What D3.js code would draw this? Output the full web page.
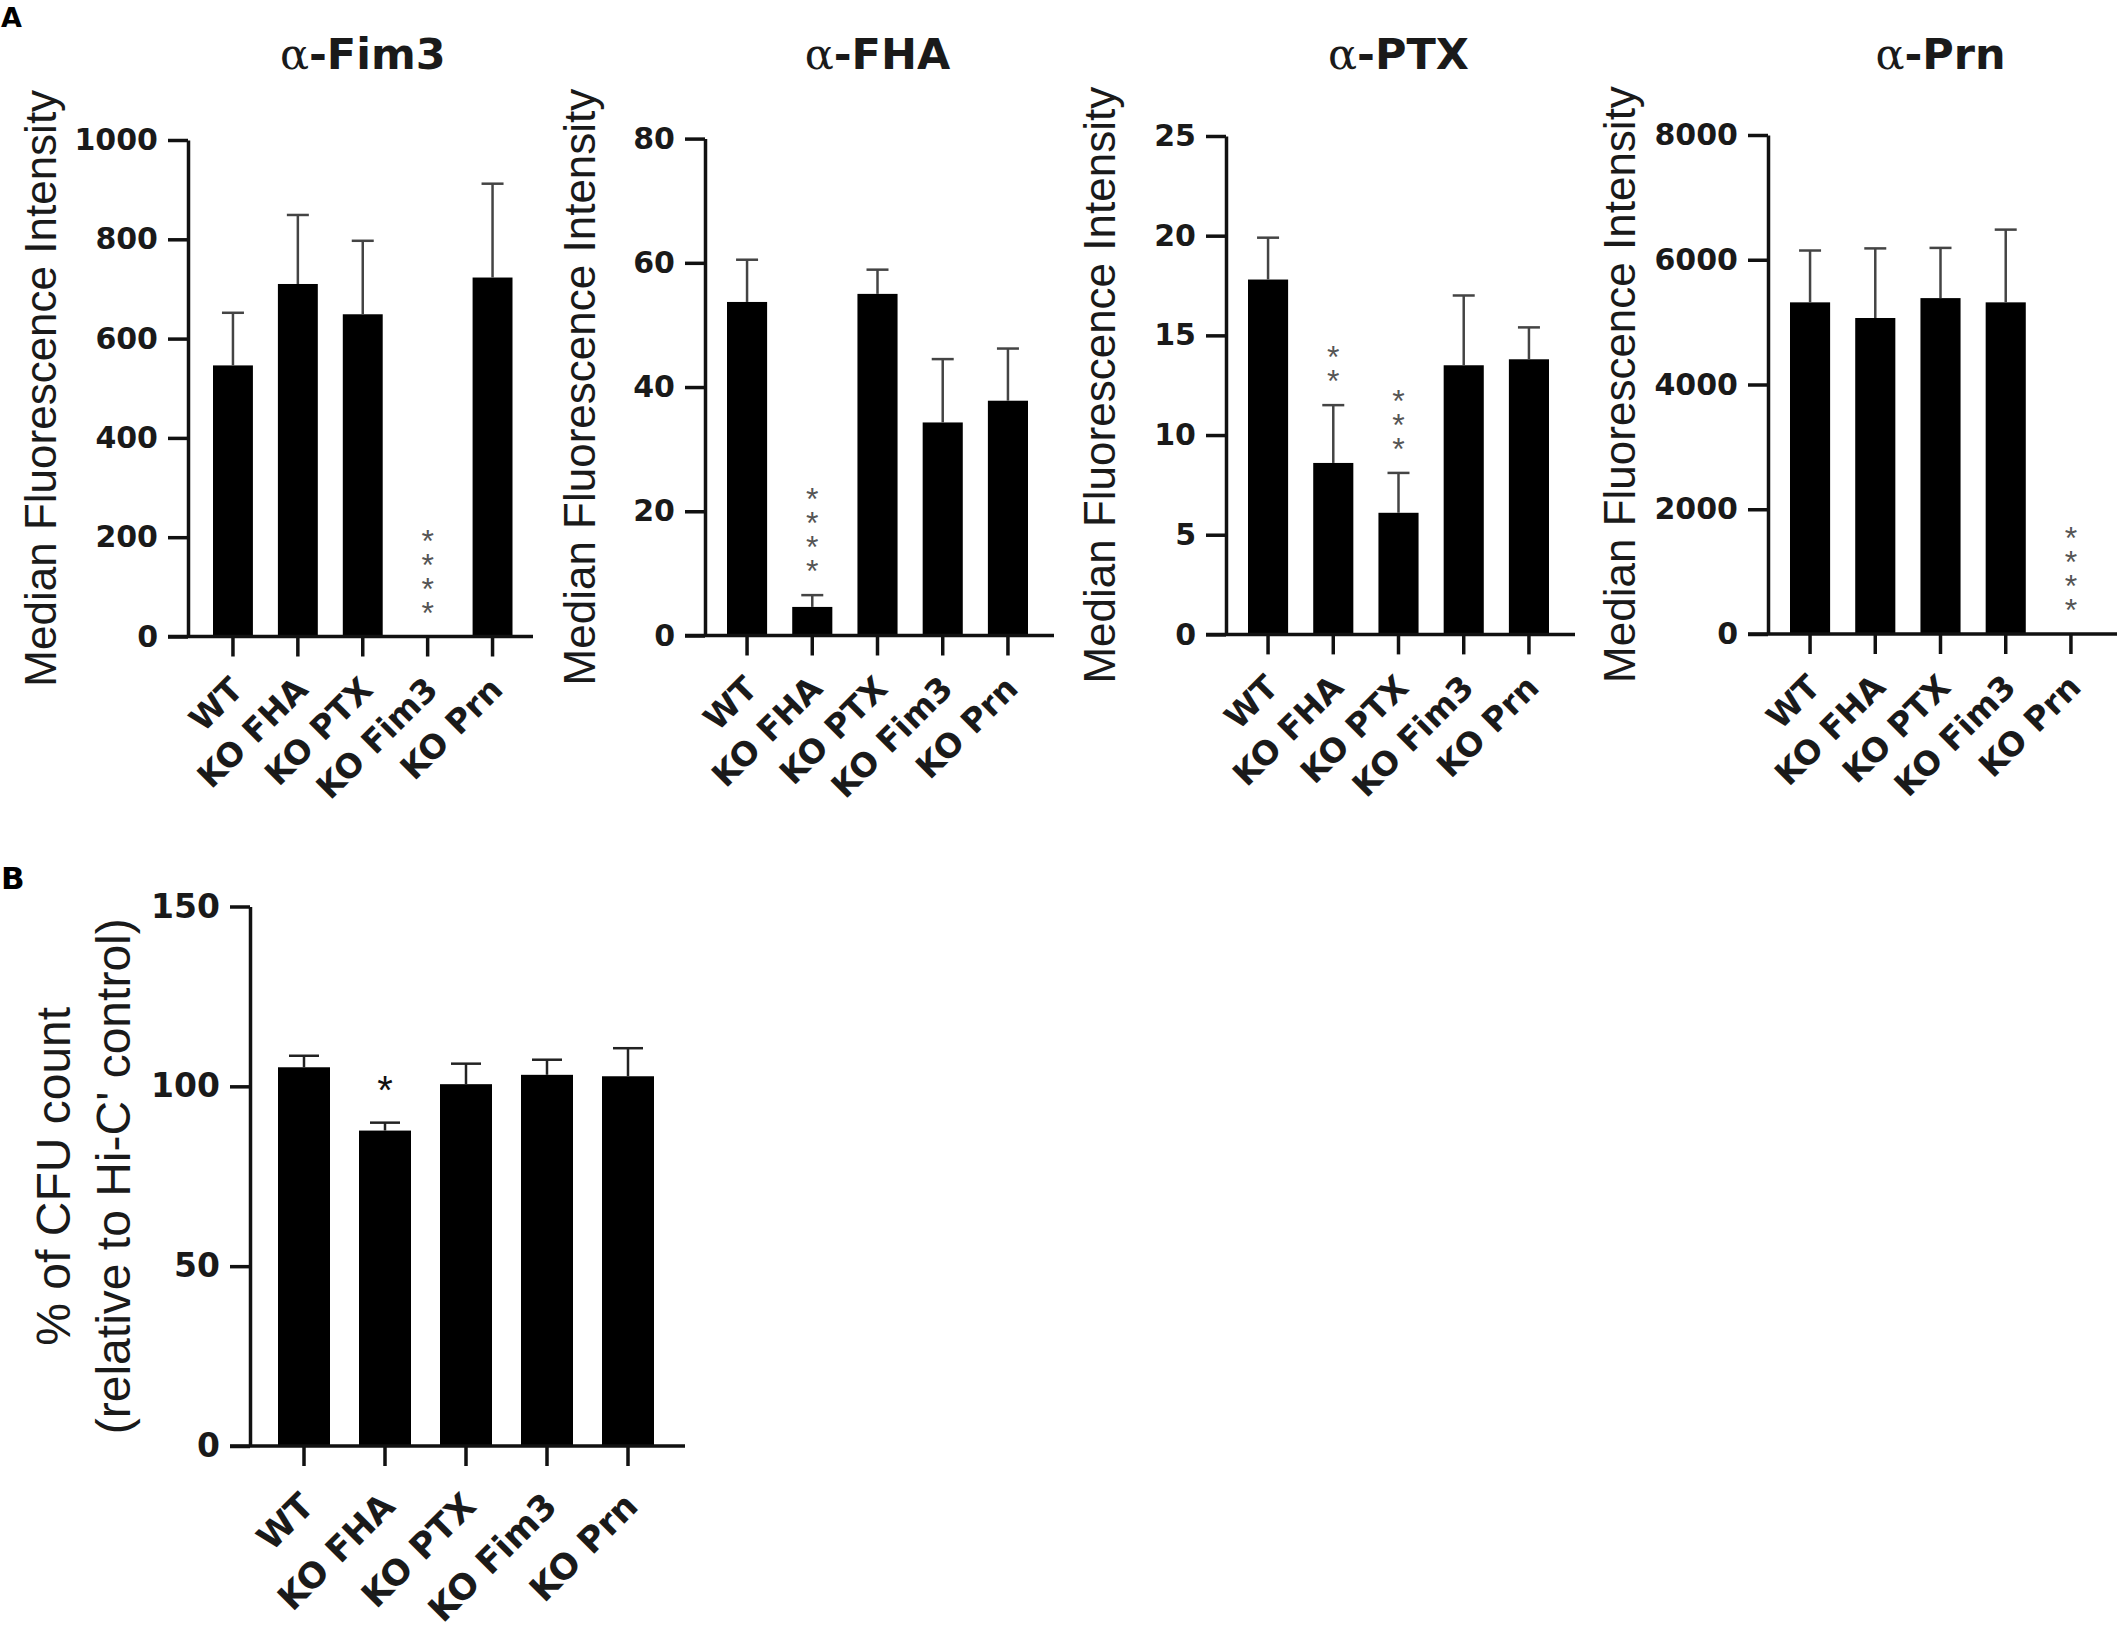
<!DOCTYPE html>
<html>
<head>
<meta charset="utf-8">
<script src="https://cdn.jsdelivr.net/npm/d3@7"></script>
<style>
  body { margin: 0; background: #fff; }
  svg { display: block; }
</style>
</head>
<body>
<svg id="svg" width="2121" height="1630"></svg>
<script>
var categories = ["WT", "KO FHA", "KO PTX", "KO Fim3", "KO Prn"];

// panel A, median fluorescence intensity (mean, SD)
var fim3Mean = [546, 710, 649, 0, 723];
var fim3Sd   = [106, 139, 148, 0, 189];
var fim3Sig  = ["", "", "", "****", ""];
var fim3Ticks = [0, 200, 400, 600, 800, 1000];

var fhaMean = [53.7, 4.6, 55.0, 34.3, 37.8];
var fhaSd   = [6.8, 1.9, 3.9, 10.2, 8.4];
var fhaSig  = ["", "****", "", "", ""];
var fhaTicks = [0, 20, 40, 60, 80];

var ptxMean = [17.8, 8.6, 6.1, 13.5, 13.8];
var ptxSd   = [2.1, 2.9, 2.0, 3.5, 1.6];
var ptxSig  = ["", "**", "***", "", ""];
var ptxTicks = [0, 5, 10, 15, 20, 25];

var prnMean = [5317, 5066, 5385, 5317, 0];
var prnSd   = [831, 1116, 805, 1166, 0];
var prnSig  = ["", "", "", "", "****"];
var prnTicks = [0, 2000, 4000, 6000, 8000];

// panel B, % of CFU count
var cfuMean = [105.3, 87.7, 100.6, 103.2, 102.8];
var cfuSd   = [3.2, 2.2, 5.7, 4.2, 7.8];
var cfuSig  = ["", "*", "", "", ""];
var cfuTicks = [0, 50, 100, 150];

var svg = d3.select("#svg");
svg.append("rect").attr("width", 2121).attr("height", 1630).attr("fill", "#fff");

function drawPanel(p){
  var g = svg.append("g");
  var y = d3.scaleLinear().domain([0, d3.max(p.ticks)]).range([p.y0, p.yTop]);
  var x = d3.scaleBand().domain(categories).range([p.barL, p.barR]).paddingInner(p.pad);
  var rows = categories.map(function(c, i){
    return {cat: c, mean: p.mean[i], sd: p.sd[i], sig: p.sig[i]};
  });

  // bars
  g.selectAll(".bar").data(rows).enter().append("rect")
    .attr("x", function(d){ return x(d.cat); })
    .attr("y", function(d){ return y(d.mean); })
    .attr("width", x.bandwidth())
    .attr("height", function(d){ return p.y0 - y(d.mean); })
    .attr("fill", "#000");

  // error bars (upper only)
  var eb = g.selectAll(".err").data(rows.filter(function(d){ return d.sd > 0; })).enter().append("g");
  eb.append("line")
    .attr("x1", function(d){ return x(d.cat) + x.bandwidth()/2; })
    .attr("x2", function(d){ return x(d.cat) + x.bandwidth()/2; })
    .attr("y1", function(d){ return y(d.mean); })
    .attr("y2", function(d){ return y(d.mean + d.sd); })
    .attr("stroke", p.errColor).attr("stroke-width", 2.5);
  eb.append("line")
    .attr("x1", function(d){ return x(d.cat) + x.bandwidth()/2 - p.cap; })
    .attr("x2", function(d){ return x(d.cat) + x.bandwidth()/2 + p.cap; })
    .attr("y1", function(d){ return y(d.mean + d.sd); })
    .attr("y2", function(d){ return y(d.mean + d.sd); })
    .attr("stroke", p.errColor).attr("stroke-width", 2.5);

  // significance stars: one text run turned to vertical, each glyph turned back upright
  rows.forEach(function(d){
    if(!d.sig) return;
    var n = d.sig.length, fs = p.starSize;
    var cx = x(d.cat) + x.bandwidth()/2;
    var yBottom = y(d.mean + d.sd) - p.starGap;
    var yTopStar = yBottom - (n - 1)*p.starStep;
    g.append("text")
      .attr("transform", "translate(" + (cx - 0.195*fs) + "," + (yTopStar + 0.57*fs) + ") rotate(90)")
      .attr("x", d3.range(n).map(function(k){ return k*p.starStep; }).join(" "))
      .attr("y", 0)
      .attr("rotate", "-90")
      .attr("font-family", "Liberation Sans, Arial, sans-serif")
      .attr("font-size", fs)
      .attr("fill", p.starColor)
      .text(d.sig);
  });

  // y axis
  var ya = g.append("g").attr("transform", "translate(" + p.axisX + ",0)")
    .call(d3.axisLeft(y).tickValues(p.ticks).tickFormat(d3.format("d"))
      .tickSize(20).tickPadding(10).tickSizeOuter(0));
  ya.select(".domain").attr("stroke", "#111").attr("stroke-width", 3.5);
  ya.selectAll(".tick line").attr("stroke", "#111").attr("stroke-width", 3.5);
  ya.selectAll(".tick text")
    .attr("font-family", "DejaVu Sans, sans-serif")
    .attr("font-weight", "bold")
    .attr("font-size", p.tickSize)
    .attr("fill", "#1a1a1a");

  // x axis
  g.append("line")
    .attr("x1", p.axisX - 20).attr("x2", p.axisEnd)
    .attr("y1", p.y0).attr("y2", p.y0)
    .attr("stroke", "#111").attr("stroke-width", 3.5);
  var xa = g.append("g").attr("transform", "translate(0," + p.y0 + ")")
    .call(d3.axisBottom(x).tickSize(20).tickSizeOuter(0));
  xa.select(".domain").remove();
  xa.selectAll(".tick line").attr("stroke", "#111").attr("stroke-width", 3.5);
  xa.selectAll(".tick text")
    .attr("x", 0).attr("y", 0).attr("dy", 0)
    .attr("text-anchor", "end")
    .attr("transform", "translate(" + p.labDx + "," + p.labDy + ") rotate(-45)")
    .attr("font-family", "DejaVu Sans, sans-serif")
    .attr("font-weight", "bold")
    .attr("font-size", p.labSize)
    .attr("fill", "#1a1a1a");

  // y label
  var cy = (p.y0 + p.yTop)/2;
  p.ylab.forEach(function(t, i){
    g.append("text")
      .attr("transform", "translate(" + p.ylabX[i] + "," + cy + ") rotate(-90)")
      .attr("dy", "0.35em")
      .attr("text-anchor", "middle")
      .attr("font-family", "Liberation Sans, Arial, sans-serif")
      .attr("font-size", p.ylabSize)
      .attr("fill", "#1a1a1a")
      .text(t);
  });

  // title
  if(p.title){
    var tt = g.append("text")
      .attr("x", (p.barL + p.barR)/2).attr("y", 69)
      .attr("text-anchor", "middle")
      .attr("font-family", "DejaVu Sans, sans-serif")
      .attr("font-weight", "bold")
      .attr("font-size", 43)
      .attr("fill", "#1a1a1a");
    tt.append("tspan").attr("font-family", "DejaVu Serif, serif").attr("font-weight", "normal").text("\u03b1");
    tt.append("tspan").text("-" + p.title);
  }
}

var panelA = {yTop: 0, y0: 0, pad: 0.385, cap: 11, errColor: "#444",
  starGap: 31, starStep: 24, starSize: 32, starColor: "#555",
  tickSize: 30, labSize: 33, labDx: 12, labDy: 55,
  ylab: ["Median Fluorescence Intensity"], ylabSize: 44};

function withA(o){ return Object.assign({}, panelA, o); }

drawPanel(withA({title: "Fim3", mean: fim3Mean, sd: fim3Sd, sig: fim3Sig, ticks: fim3Ticks,
  axisX: 188, yTop: 140, y0: 636.5, barL: 213, barR: 512.5, axisEnd: 533, ylabX: [41]}));
drawPanel(withA({title: "FHA", mean: fhaMean, sd: fhaSd, sig: fhaSig, ticks: fhaTicks,
  axisX: 705, yTop: 138.6, y0: 635.5, barL: 727, barR: 1028, axisEnd: 1054, ylabX: [580]}));
drawPanel(withA({title: "PTX", mean: ptxMean, sd: ptxSd, sig: ptxSig, ticks: ptxTicks,
  axisX: 1226, yTop: 136, y0: 634.4, barL: 1248, barR: 1549, axisEnd: 1575, ylabX: [1100]}));
drawPanel(withA({title: "Prn", mean: prnMean, sd: prnSd, sig: prnSig, ticks: prnTicks,
  axisX: 1768, yTop: 135, y0: 634, barL: 1790, barR: 2091, axisEnd: 2117, ylabX: [1620]}));

drawPanel({title: null, mean: cfuMean, sd: cfuSd, sig: cfuSig, ticks: cfuTicks,
  axisX: 250, yTop: 906.5, y0: 1446, barL: 278, barR: 654, axisEnd: 685, pad: 0.358,
  cap: 15, errColor: "#222", starGap: 41, starStep: 24, starSize: 40, starColor: "#111",
  tickSize: 33, labSize: 35, labDx: 12, labDy: 62,
  ylab: ["% of CFU count", "(relative to Hi-C' control)"], ylabX: [53, 113], ylabSize: 48});

// panel letters
svg.append("text").attr("x", 1).attr("y", 27)
  .attr("font-family", "DejaVu Sans, sans-serif").attr("font-weight", "bold")
  .attr("font-size", 27).attr("fill", "#000").text("A");
svg.append("text").attr("x", 1).attr("y", 889)
  .attr("font-family", "DejaVu Sans, sans-serif").attr("font-weight", "bold")
  .attr("font-size", 31).attr("fill", "#000").text("B");
</script>
</body>
</html>
